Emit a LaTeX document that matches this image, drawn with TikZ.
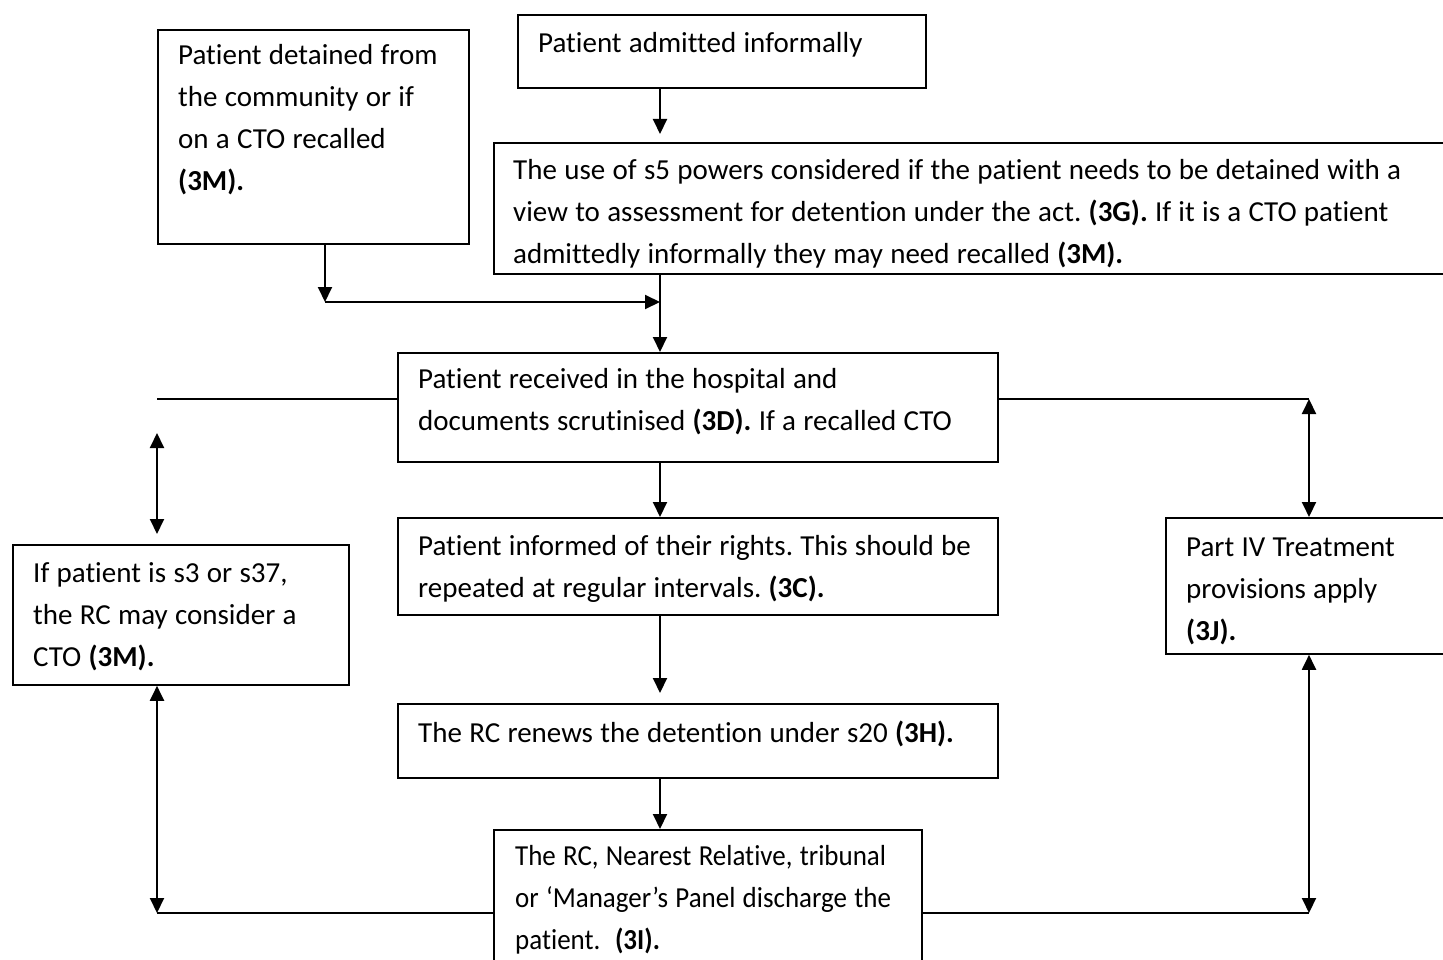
\documentclass[tikz,border=0pt]{standalone}
\usepackage{fontspec}
\setmainfont{Carlito}[Ligatures=NoCommon]
\newfontfamily\condfont{Carlito}[Ligatures=NoCommon, FakeStretch=0.93]
\usetikzlibrary{arrows.meta}
\frenchspacing
\newlength\myspace
\setlength\myspace{7.3pt}
\tikzset{
  box/.style={draw=black, line width=1.8pt, inner sep=0pt, anchor=north west, fill=white},
  txt/.style={font=\fontsize{29}{42}\selectfont, align=left, inner sep=0pt, anchor=base west, text width=1100pt,
    execute at begin node={\spaceskip\myspace\relax}},
  arr/.style={line width=2pt, -{Triangle[length=15pt,width=14pt]}},
  darr/.style={line width=2pt, {Triangle[length=15pt,width=14pt]}-{Triangle[length=15pt,width=14pt]}},
  conn/.style={line width=2pt},
  thinconn/.style={line width=1.2pt}
}
\begin{document}
\begin{tikzpicture}[x=1pt,y=-1pt]
\useasboundingbox (0,0) rectangle (1443,960);
\clip (0,0) rectangle (1443,960);
\fill[white] (0,0) rectangle (1443,960);

% boxes
\node[box, minimum width=311pt, minimum height=214pt] (b1) at (157,29) {};
\node[box, minimum width=408pt, minimum height=73pt] (b2) at (517,14) {};
\node[box, minimum width=1000pt, minimum height=131pt] (b3) at (493,142) {};
\node[box, minimum width=600pt, minimum height=109pt] (b4) at (397,352) {};
\node[box, minimum width=600pt, minimum height=97pt] (b5) at (397,517) {};
\node[box, minimum width=600pt, minimum height=74pt] (b6) at (397,703) {};
\node[box, minimum width=428pt, minimum height=200pt] (b7) at (493,829) {};
\node[box, minimum width=336pt, minimum height=140pt] (bL) at (12,544) {};
\node[box, minimum width=400pt, minimum height=136pt] (bR) at (1165,517) {};

% texts
\node[txt] (t1) at (178,65) {Patient detained from\\the community or if\\on a CTO recalled\\\textbf{(3M).}};
\node[txt] (t2) at (538,53) {Patient admitted informally};
\begin{scope}
\clip (494,143) rectangle (1443,272);
\node[txt] (t3) at (513,180) {The use of s5 powers considered if the patient needs to be detained with a\\view to assessment for detention under the act. \textbf{(3G).} If it is a CTO patient\\admittedly informally they may need recalled \textbf{(3M).}};
\end{scope}
\node[txt] (t4) at (418,388) {Patient received in the hospital and\\documents scrutinised \textbf{(3D).} If a recalled CTO};
\node[txt] (t5) at (418,555) {Patient informed of their rights. This should be\\repeated at regular intervals. \textbf{(3C).}};
\node[txt] (t6) at (418,742) {The RC renews the detention under s20 \textbf{(3H).}};
\node[txt, font=\condfont\fontsize{29}{42}\selectfont] (t7) at (515,865) {The RC, Nearest Relative, tribunal\\or ‘Manager’s Panel discharge the\\patient.\ \ \textbf{(3I).}};
\node[txt] (tL) at (33,582) {If patient is s3 or s37,\\the RC may consider a\\CTO \textbf{(3M).}};
\node[txt] (tR) at (1186,556) {Part IV Treatment\\provisions apply\\\textbf{(3J).}};

% helper coordinates
\coordinate (cx) at (660,0);
\coordinate (lx) at (325,0);
\coordinate (j1) at (325,302);
\coordinate (hl) at (157,399);
\coordinate (hr) at (1309,399);
\coordinate (lu1) at (157,433);
\coordinate (lu2) at (157,534);
\coordinate (hbl) at (157,913);
\coordinate (hbr) at (1309,913);

% connectors
\draw[arr, shorten >=8pt] (b2.south -| cx) -- (b3.north -| cx);
\draw[arr] (b1.south -| lx) -- (j1);
\draw[arr] (j1) -- (j1 -| cx);
\draw[arr] (b3.south -| cx) -- (b4.north -| cx);
\draw[thinconn] (b4.west |- hl) -- (hl);
\draw[thinconn] (b4.east |- hr) -- (hr);
\draw[darr] (lu1) -- (lu2);
\draw[darr] (hr) -- (bR.north -| hr);
\draw[arr] (b4.south -| cx) -- (b5.north -| cx);
\draw[arr, shorten >=10pt] (b5.south -| cx) -- (b6.north -| cx);
\draw[arr] (b6.south -| cx) -- (b7.north -| cx);
\draw[conn] (b7.west |- hbl) -- (hbl);
\draw[conn] (b7.east |- hbr) -- (hbr);
\draw[darr] (bL.south -| hbl) -- (hbl);
\draw[darr] (bR.south -| hbr) -- (hbr);
\end{tikzpicture}
\end{document}
